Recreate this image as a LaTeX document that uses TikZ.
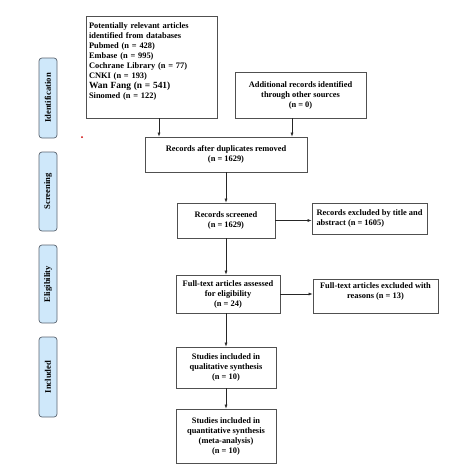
\documentclass[tikz,border=0pt]{standalone}
\usepackage{fontspec}
\setmainfont{Liberation Serif}
\usetikzlibrary{arrows.meta}
\definecolor{stagefill}{HTML}{CFE8FA}
\definecolor{stageline}{HTML}{5A6470}
\definecolor{boxline}{HTML}{505050}
\tikzset{
  flowbox/.style={draw=boxline, line width=0.8pt, fill=white, inner sep=2pt,
    font=\fontsize{8.4}{10}\selectfont\bfseries, align=center},
  stagebox/.style={draw=stageline, line width=0.7pt, fill=stagefill, rounded corners=3pt,
    minimum height=18pt, inner sep=0pt, font=\fontsize{8.6}{10}\selectfont\bfseries, rotate=90},
  arr/.style={draw=black!85, line width=0.6pt, -{Latex[length=4pt,width=3pt]}}
}
\begin{document}
\begin{tikzpicture}[x=1pt,y=-1pt]
\useasboundingbox (0,0) rectangle (474,474);
% stage labels
\node[stagebox, minimum width=80pt] (sid) at (48,98) {Identification};
\node[stagebox, minimum width=79pt] (ssc) at (48,191.5) {Screening};
\node[stagebox, minimum width=78pt] (sel) at (48,284) {Eligibility};
\node[stagebox, minimum width=80pt] (sin) at (48,377) {Included};
\fill[red!80!black] (82,137) circle (1pt);
% boxes
\node[flowbox, minimum width=131pt, minimum height=102pt, align=left, text width=125pt] (b1) at (151.5,67)
 {Potentially relevant articles\\identified from databases\\
  Pubmed (n = 428)\\Embase (n = 995)\\Cochrane Library (n = 77)\\CNKI (n = 193)\\
  {\fontsize{9.4}{10}\selectfont Wan Fang (n = 541)}\\Sinomed (n = 122)\\[0pt]\strut};
\node[flowbox, minimum width=131pt, minimum height=46pt] (b2) at (300.5,95)
 {Additional records identified\\through other sources\\(n = 0)};
\node[flowbox, minimum width=162pt, minimum height=35pt] (b3) at (226,154.5)
 {Records after duplicates removed\\(n = 1629)};
\node[flowbox, minimum width=98pt, minimum height=35pt] (b4) at (226,220.5)
 {Records screened\\(n = 1629)};
\node[flowbox, minimum width=115pt, minimum height=31pt, align=left] (b5) at (369.5,218.5)
 {Records excluded by title and\\abstract (n = 1605)};
\node[flowbox, minimum width=104pt, minimum height=38pt] (b6) at (228,294)
 {Full-text articles assessed\\for eligibility\\(n = 24)};
\node[flowbox, minimum width=125pt, minimum height=34pt] (b7) at (375.5,296)
 {Full-text articles excluded with\\reasons (n = 13)\\[1pt]};
\node[flowbox, minimum width=100pt, minimum height=41pt] (b8) at (226,367.5)
 {Studies included in\\qualitative synthesis\\(n = 10)};
\node[flowbox, minimum width=100pt, minimum height=54pt] (b9) at (226,436)
 {Studies included in\\quantitative synthesis\\(meta-analysis)\\(n = 10)};
% connectors
\draw[arr] ([xshift=7.5pt]b1.south) -- ([xshift=7.5pt]b1.south |- b3.north);
\draw[arr] ([xshift=-8.5pt]b2.south) -- ([xshift=-8.5pt]b2.south |- b3.north);
\draw[arr] (b3.south) -- (b4.north);
\draw[arr] (b4.east) -- (b4.east -| b5.west);
\draw[arr] (b4.south) -- (b4.south |- b6.north);
\draw[arr] (b6.east) -- (b6.east -| b7.west);
\draw[arr] (b6.south -| b8.north) -- (b8.north);
\draw[arr] (b8.south) -- (b9.north);
\end{tikzpicture}
\end{document}
